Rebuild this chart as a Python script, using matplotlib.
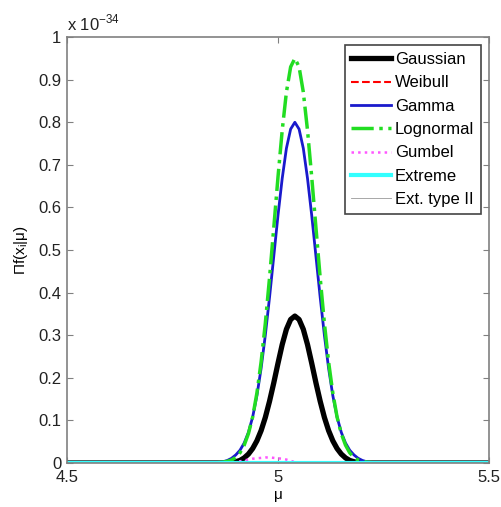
import matplotlib
matplotlib.use("Agg")
import matplotlib.pyplot as plt
from matplotlib.ticker import FormatStrFormatter

plt.rcParams['font.family'] = ['Liberation Sans', 'DejaVu Sans']

# mu grid (x) and likelihood curves, in units of 1e-34
mu = [4.5,
      4.85, 4.86, 4.87, 4.88, 4.89, 4.90, 4.91, 4.92, 4.93, 4.94,
      4.95, 4.96, 4.97, 4.98, 4.99, 5.00, 5.01, 5.02, 5.03, 5.04,
      5.05, 5.06, 5.07, 5.08, 5.09, 5.10, 5.11, 5.12, 5.13, 5.14,
      5.15, 5.16, 5.17, 5.18, 5.19, 5.20, 5.21, 5.22, 5.23, 5.24,
      5.5]

gaussian = [0,
            0, 0, 0, 0, 0.001, 0.003, 0.006, 0.012, 0.021, 0.034,
            0.052, 0.076, 0.107, 0.145, 0.188, 0.234, 0.278, 0.314, 0.337, 0.345,
            0.337, 0.314, 0.278, 0.234, 0.188, 0.145, 0.107, 0.076, 0.052, 0.034,
            0.021, 0.012, 0.006, 0.003, 0.001, 0, 0, 0, 0, 0,
            0]

gamma = [0,
         0, 0.001, 0.003, 0.006, 0.011, 0.019, 0.030, 0.047, 0.072, 0.108,
         0.158, 0.222, 0.300, 0.389, 0.485, 0.581, 0.668, 0.739, 0.784, 0.800,
         0.784, 0.739, 0.668, 0.581, 0.485, 0.389, 0.300, 0.222, 0.158, 0.108,
         0.072, 0.047, 0.030, 0.019, 0.011, 0.006, 0.003, 0.001, 0, 0,
         0]

lognormal = [0,
             0, 0.001, 0.002, 0.004, 0.007, 0.013, 0.024, 0.042, 0.069, 0.108,
             0.164, 0.237, 0.328, 0.435, 0.552, 0.671, 0.781, 0.871, 0.930, 0.950,
             0.930, 0.871, 0.781, 0.671, 0.552, 0.435, 0.328, 0.237, 0.164, 0.108,
             0.069, 0.042, 0.024, 0.013, 0.007, 0.004, 0.002, 0.001, 0, 0,
             0]

gumbel = [0,
          0, 0, 0, 0, 0.001, 0.002, 0.004, 0.006, 0.008, 0.010,
          0.011, 0.012, 0.013, 0.013, 0.012, 0.011, 0.010, 0.008, 0.005, 0.002,
          0, 0, 0, 0, 0, 0, 0, 0, 0, 0,
          0, 0, 0, 0, 0, 0, 0, 0, 0, 0,
          0]

flat_mu = [4.5, 5.5]
weibull = [0, 0]
extreme = [0, 0]
ext_type2 = [0, 0]

fig = plt.figure(figsize=(5.01, 5.07), dpi=100)
ax = fig.add_axes([0.1337, 0.0868, 0.8423, 0.840])

ax.plot(mu, gaussian, color='black', lw=3.8, label='Gaussian')
ax.plot(flat_mu, weibull, color='red', lw=1.5, ls='--', label='Weibull')
ax.plot(mu, gamma, color='#1a1acc', lw=2, label='Gamma')
ax.plot(mu, lognormal, color='#22dd22', lw=2.5, ls='-.', label='Lognormal')
ax.plot(mu, gumbel, color='#ff55ff', lw=1.8, ls=':', label='Gumbel')
ax.plot(flat_mu, extreme, color='#33ffff', lw=3, label='Extreme')
ax.plot(flat_mu, ext_type2, color='#999999', lw=0.6, label='Ext. type II')

ax.set_xlim(4.5, 5.5)
ax.set_ylim(0, 1)
ax.set_xticks([4.5, 5, 5.5])
ax.set_xticklabels(['4.5', '5', '5.5'])
ax.set_yticks([i / 10 for i in range(11)])
ax.yaxis.set_major_formatter(FormatStrFormatter('%g'))

for s in ax.spines.values():
    s.set_color('#808080')
    s.set_linewidth(1.2)
ax.tick_params(direction='in', length=4, color='#808080', labelsize=12,
               labelcolor='#222222', top=True, right=True, pad=4)
ax.tick_params(axis='x', pad=5)

ax.set_xlabel('μ', fontsize=11, labelpad=2)
ax.set_ylabel('Πf(x$_\\mathregular{i}$|μ)', fontsize=11, labelpad=6)
ax.text(0, 1.008, 'x 10$^\\mathregular{-34}$', transform=ax.transAxes,
        fontsize=12, color='#222222', ha='left', va='bottom')

leg = ax.legend(loc='upper right', fontsize=12, handlelength=2.4,
                handletextpad=0.2, labelspacing=0.5, borderpad=0.4,
                borderaxespad=0.5, fancybox=False, framealpha=1)
leg.get_frame().set_edgecolor('#444444')
leg.get_frame().set_linewidth(1.2)

fig.savefig('out.png', dpi=100)
